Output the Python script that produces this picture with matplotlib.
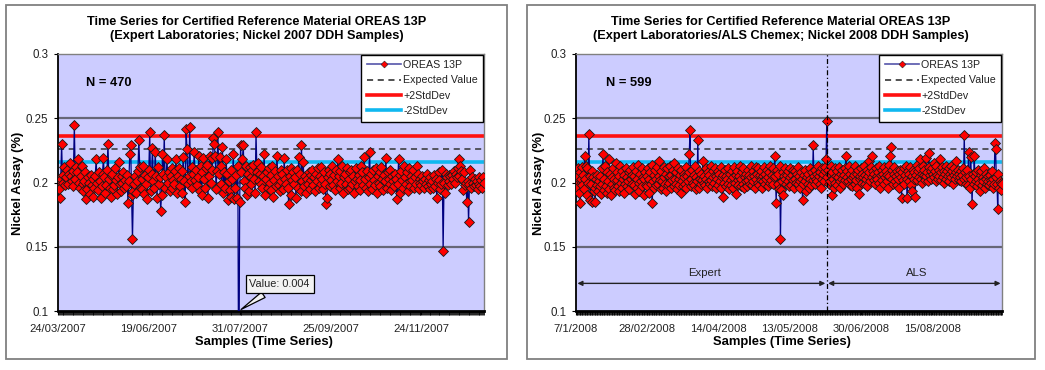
import matplotlib
matplotlib.use("Agg")
import matplotlib.pyplot as plt
from matplotlib.lines import Line2D
from matplotlib.patches import Rectangle
import numpy as np

plt.rcParams['font.family'] = ['Liberation Sans', 'DejaVu Sans']

# ---------------- data (values in thousandths of % Ni) ----------------
ni_2007 = [
    202,195,188,203,230,200,206,212,198,204,210,199,207,215,205,201,197,209,245,203,
    212,208,218,200,196,205,213,199,193,201,208,187,195,204,200,191,206,198,203,189,
    196,205,218,200,194,208,201,188,197,207,219,204,192,198,210,230,203,196,189,205,
    207,195,198,211,202,191,204,216,199,193,205,200,208,196,202,197,206,184,201,222,
    229,190,156,193,199,205,192,201,209,233,212,196,203,195,213,191,206,199,187,204,
    210,239,193,207,227,201,196,224,205,188,212,199,204,178,190,222,207,237,196,204,
    218,200,208,193,205,196,211,202,199,209,218,192,205,211,197,203,192,209,220,201,
    185,242,226,199,205,243,201,212,196,207,224,202,210,198,204,221,193,213,190,208,
    219,203,196,211,214,188,205,221,200,219,210,235,230,221,195,209,239,207,220,213,
    199,228,192,208,196,218,207,186,201,194,210,189,203,222,187,196,206,188,213,4,
    185,229,208,218,229,201,196,213,190,207,193,212,204,199,210,214,203,192,239,208,
    215,201,207,199,212,196,205,222,190,203,208,196,211,200,194,206,213,189,202,209,
    197,221,205,198,193,210,201,207,195,219,203,199,210,196,183,205,211,190,202,208,
    199,204,188,210,196,220,207,193,229,201,216,197,205,192,203,199,208,195,202,206,
    210,198,204,193,207,201,211,196,205,199,212,203,195,208,199,183,188,204,210,197,
    207,202,213,198,206,194,210,201,218,205,196,209,200,213,192,204,207,199,211,195,
    203,208,196,210,199,205,192,201,211,203,197,206,194,202,213,208,198,220,203,196,
    209,193,204,224,199,207,195,210,202,198,211,192,205,200,208,197,212,203,194,206,
    201,219,196,208,203,199,210,194,205,201,197,207,203,187,199,218,206,192,209,202,
    196,213,204,199,208,193,211,201,197,205,202,210,196,204,199,213,207,195,203,200,
    198,205,201,196,203,199,207,197,202,195,204,199,201,196,206,197,203,188,200,208,
    202,195,199,210,147,200,192,207,204,198,206,201,205,199,206,203,209,200,207,204,
    211,218,205,213,209,203,194,208,198,200,185,201,169,199,210,196,204,200,197,203,
    198,201,195,204,199,197,202,196,204,200,
]

ni_2008 = [
    200,204,196,211,192,208,184,203,212,198,206,195,221,203,213,190,211,200,238,205,
    186,199,209,185,204,193,196,185,203,198,206,193,201,197,205,191,199,211,222,194,
    203,213,197,208,192,201,218,195,207,190,204,199,211,196,203,194,215,202,208,197,
    205,193,213,200,196,209,203,192,206,199,211,197,204,201,208,195,210,203,199,206,
    212,198,205,191,209,203,196,214,200,193,207,201,211,197,204,190,203,208,198,205,
    197,211,203,192,208,199,214,184,201,206,196,210,203,198,212,199,205,217,202,195,
    209,201,196,212,204,199,207,193,211,198,205,200,213,196,206,202,210,197,215,203,
    199,208,195,211,203,198,206,192,210,201,197,207,204,199,212,196,205,201,208,222,
    241,203,197,210,200,206,198,213,195,204,201,233,196,209,203,199,207,202,217,200,
    205,198,211,203,196,208,201,206,199,213,202,197,209,204,200,211,196,205,203,209,
    198,207,201,212,196,204,189,206,200,210,197,205,203,199,211,195,207,202,198,209,
    204,196,212,200,206,191,209,202,198,205,213,197,203,208,199,211,196,204,201,207,
    197,210,202,206,199,213,204,198,209,201,205,196,212,203,207,200,211,198,206,202,
    209,196,205,201,212,199,207,203,210,197,204,208,200,213,202,206,199,211,204,221,
    205,184,210,199,207,195,213,156,194,201,208,190,205,203,211,199,206,201,209,197,
    204,211,198,206,202,210,196,203,209,200,207,212,199,205,201,196,208,203,186,199,
    206,201,210,193,204,199,207,196,211,203,198,208,202,229,205,199,210,203,207,201,
    213,205,199,208,196,211,203,207,201,209,212,218,248,204,210,199,207,201,213,190,
    208,203,196,211,200,205,209,198,204,212,201,196,207,203,210,199,206,202,211,221,
    209,204,201,213,207,198,203,210,197,204,206,199,213,202,196,207,210,191,203,205,
    211,200,207,204,213,199,206,203,210,197,205,208,217,201,212,221,204,209,202,207,
    199,211,205,203,208,200,213,196,206,210,202,207,199,212,204,209,201,206,196,214,
    205,221,228,203,210,199,207,212,201,205,198,209,203,207,196,210,204,188,208,202,
    211,199,206,213,203,188,209,201,207,212,198,205,193,210,203,208,189,206,214,202,
    209,204,211,218,203,207,200,213,206,210,202,219,205,208,201,223,212,206,209,203,
    211,207,204,215,209,201,213,206,203,210,205,218,208,202,212,204,209,200,207,213,
    203,209,205,211,201,207,213,204,209,199,206,211,203,208,217,205,210,202,207,204,
    209,201,206,211,203,237,208,199,204,210,198,224,205,196,220,203,183,207,199,221,
    205,201,208,197,203,210,200,193,206,209,198,204,201,211,196,207,203,199,205,201,
    198,206,202,200,209,196,203,199,231,226,204,199,179,207,196,201,200,194,199,
]

expected_value = 0.226
plus_2sd = 0.236
minus_2sd = 0.216

ticks_2007 = [0, 100, 200, 300, 400]
labels_2007 = ["24/03/2007", "19/06/2007", "31/07/2007", "25/09/2007", "24/11/2007"]
ticks_2008 = [0, 100, 200, 300, 400, 500]
labels_2008 = ["7/1/2008", "28/02/2008", "14/04/2008", "13/05/2008", "30/06/2008", "15/08/2008"]

titles = [
    "Time Series for Certified Reference Material OREAS 13P\n(Expert Laboratories; Nickel 2007 DDH Samples)",
    "Time Series for Certified Reference Material OREAS 13P\n(Expert Laboratories/ALS Chemex; Nickel 2008 DDH Samples)",
]
n_labels = ["N = 470", "N = 599"]
outlier_label = "Value: 0.004"
outlier_index = 199
lab_switch_index = 352
lab_names = ["Expert", "ALS"]

# ---------------- figure ----------------
W, H = 1045, 370
fig = plt.figure(figsize=(W / 100, H / 100), dpi=100)

def px_rect(x0, y0, x1, y1):
    return [x0 / W, 1 - y1 / H, (x1 - x0) / W, (y1 - y0) / H]

BG = "#CCCCFF"
NAVY = "#000080"
GRIDC = "#666677"

panels = [(6, 5, 507, 359), (527, 5, 1035, 359)]
axes_px = [(58, 54, 484, 311), (576, 54, 1002, 311)]

for p in panels:
    fig.patches.append(Rectangle((p[0] / W, 1 - p[3] / H), (p[2] - p[0]) / W, (p[3] - p[1]) / H,
                                 transform=fig.transFigure, fill=False, edgecolor="#808080",
                                 linewidth=1.3))

datasets = [ni_2007, ni_2008]
tick_sets = [(ticks_2007, labels_2007), (ticks_2008, labels_2008)]

for k in range(2):
    vals = np.array(datasets[k], dtype=float) / 1000.0
    n = len(vals)
    x = np.arange(n)
    ax = fig.add_axes(px_rect(*axes_px[k]))
    ax.set_facecolor(BG)
    ax.set_xlim(0, n - 1)
    ax.set_ylim(0.1, 0.3)

    for g in [0.15, 0.2, 0.25]:
        ax.axhline(g, color=GRIDC, lw=1.6, zorder=1)

    ax.axhline(plus_2sd, color="#FF1010", lw=2.6, zorder=2)
    ax.axhline(minus_2sd, color="#10B8F0", lw=2.6, zorder=2)
    ax.axhline(expected_value, color="#333333", lw=1.1, ls=(0, (4, 3)), zorder=2)

    ax.plot(x, vals, color=NAVY, lw=0.9, zorder=3,
            marker="D", markersize=4.6, markerfacecolor="#FF0000",
            markeredgecolor="#1a1a1a", markeredgewidth=0.6)

    ax.set_yticks([0.1, 0.15, 0.2, 0.25, 0.3])
    ax.set_yticklabels(["0.1", "0.15", "0.2", "0.25", "0.3"], fontsize=8.3, color="#222222")
    ticks, labels = tick_sets[k]
    ax.set_xticks(ticks)
    ax.set_xticklabels(labels, fontsize=8.1, color="#222222")
    ax.set_xticks(np.arange(0, n, 1), minor=True)
    ax.tick_params(axis="x", which="minor", length=3, width=0.6, color="black", direction="out")
    ax.tick_params(axis="x", which="major", length=3, width=0.8, color="black", direction="out", pad=6)
    ax.tick_params(axis="y", length=3, width=0.8, direction="out", pad=4)

    for s in ["top", "right"]:
        ax.spines[s].set_color("#808080")
        ax.spines[s].set_linewidth(1.0)
    ax.spines["left"].set_color("black")
    ax.spines["left"].set_linewidth(1.3)
    ax.spines["bottom"].set_color("black")
    ax.spines["bottom"].set_linewidth(2.0)

    ax.text(0.065 if k == 0 else 0.07, 0.886, n_labels[k], transform=ax.transAxes,
            fontsize=9.3, fontweight="bold", va="center", ha="left")

    handles = [
        Line2D([], [], color="#5555AA", lw=1.2, marker="D", markersize=3.5,
               markerfacecolor="#FF0000", markeredgecolor="#222222", markeredgewidth=0.4),
        Line2D([], [], color="#222222", lw=1.1, ls=(0, (4, 3))),
        Line2D([], [], color="#FF1010", lw=2.6),
        Line2D([], [], color="#10B8F0", lw=2.6),
    ]
    leg = ax.legend(handles, ["OREAS 13P", "Expected Value", "+2StdDev", "-2StdDev"],
                    loc="upper right", bbox_to_anchor=(0.998, 0.997), borderaxespad=0,
                    fontsize=7.7, handlelength=3.2, handletextpad=0.2, labelspacing=0.5,
                    frameon=True, fancybox=False, edgecolor="black", framealpha=1,
                    borderpad=0.5)
    leg.get_frame().set_linewidth(1.0)
    for t in leg.get_texts():
        t.set_color("#222222")

    # texts outside the axes
    p = panels[k]
    a = axes_px[k]
    cx = (p[0] + p[2]) / 2
    fig.text(cx / W, 1 - 29 / H, titles[k], ha="center", va="center", fontsize=9.2,
             fontweight="bold", linespacing=1.2)
    fig.text(((a[0] + a[2]) / 2 - 7) / W, 1 - 342 / H, "Samples (Time Series)", ha="center",
             va="center", fontsize=9.4, fontweight="bold")
    ylx = 18 if k == 0 else 539
    fig.text(ylx / W, 1 - 183 / H, "Nickel Assay (%)", ha="center", va="center",
             rotation=90, fontsize=9.4, fontweight="bold")

    if k == 0:
        ax.annotate(outlier_label, xy=(outlier_index, 0.1), xytext=(244, 0.121),
                    fontsize=7.8, ha="center", va="center", color="#222222",
                    bbox=dict(boxstyle="square,pad=0.35", fc="#F2F2F2", ec="black", lw=0.9),
                    arrowprops=dict(arrowstyle="wedge,tail_width=0.6,shrink_factor=0.5",
                                    fc="#F2F2F2", ec="black", lw=0.9),
                    zorder=6, annotation_clip=False)
    else:
        ax.axvline(lab_switch_index, color="black", lw=0.9, ls=(0, (4, 2, 1, 2)), zorder=4)
        ay = 0.1215
        ax.annotate("", xy=(2, ay), xytext=(lab_switch_index - 2, ay),
                    arrowprops=dict(arrowstyle="<|-|>", color="#222222", lw=1.0,
                                    mutation_scale=7, shrinkA=0, shrinkB=0))
        ax.annotate("", xy=(lab_switch_index + 2, ay), xytext=(n - 3, ay),
                    arrowprops=dict(arrowstyle="<|-|>", color="#222222", lw=1.0,
                                    mutation_scale=7, shrinkA=0, shrinkB=0))
        ax.text(180, 0.1295, lab_names[0], fontsize=8.2, ha="center", va="center", color="#222222")
        ax.text(479, 0.1295, lab_names[1], fontsize=8.2, ha="center", va="center", color="#222222")

fig.savefig("out.png", dpi=100, facecolor="white")
